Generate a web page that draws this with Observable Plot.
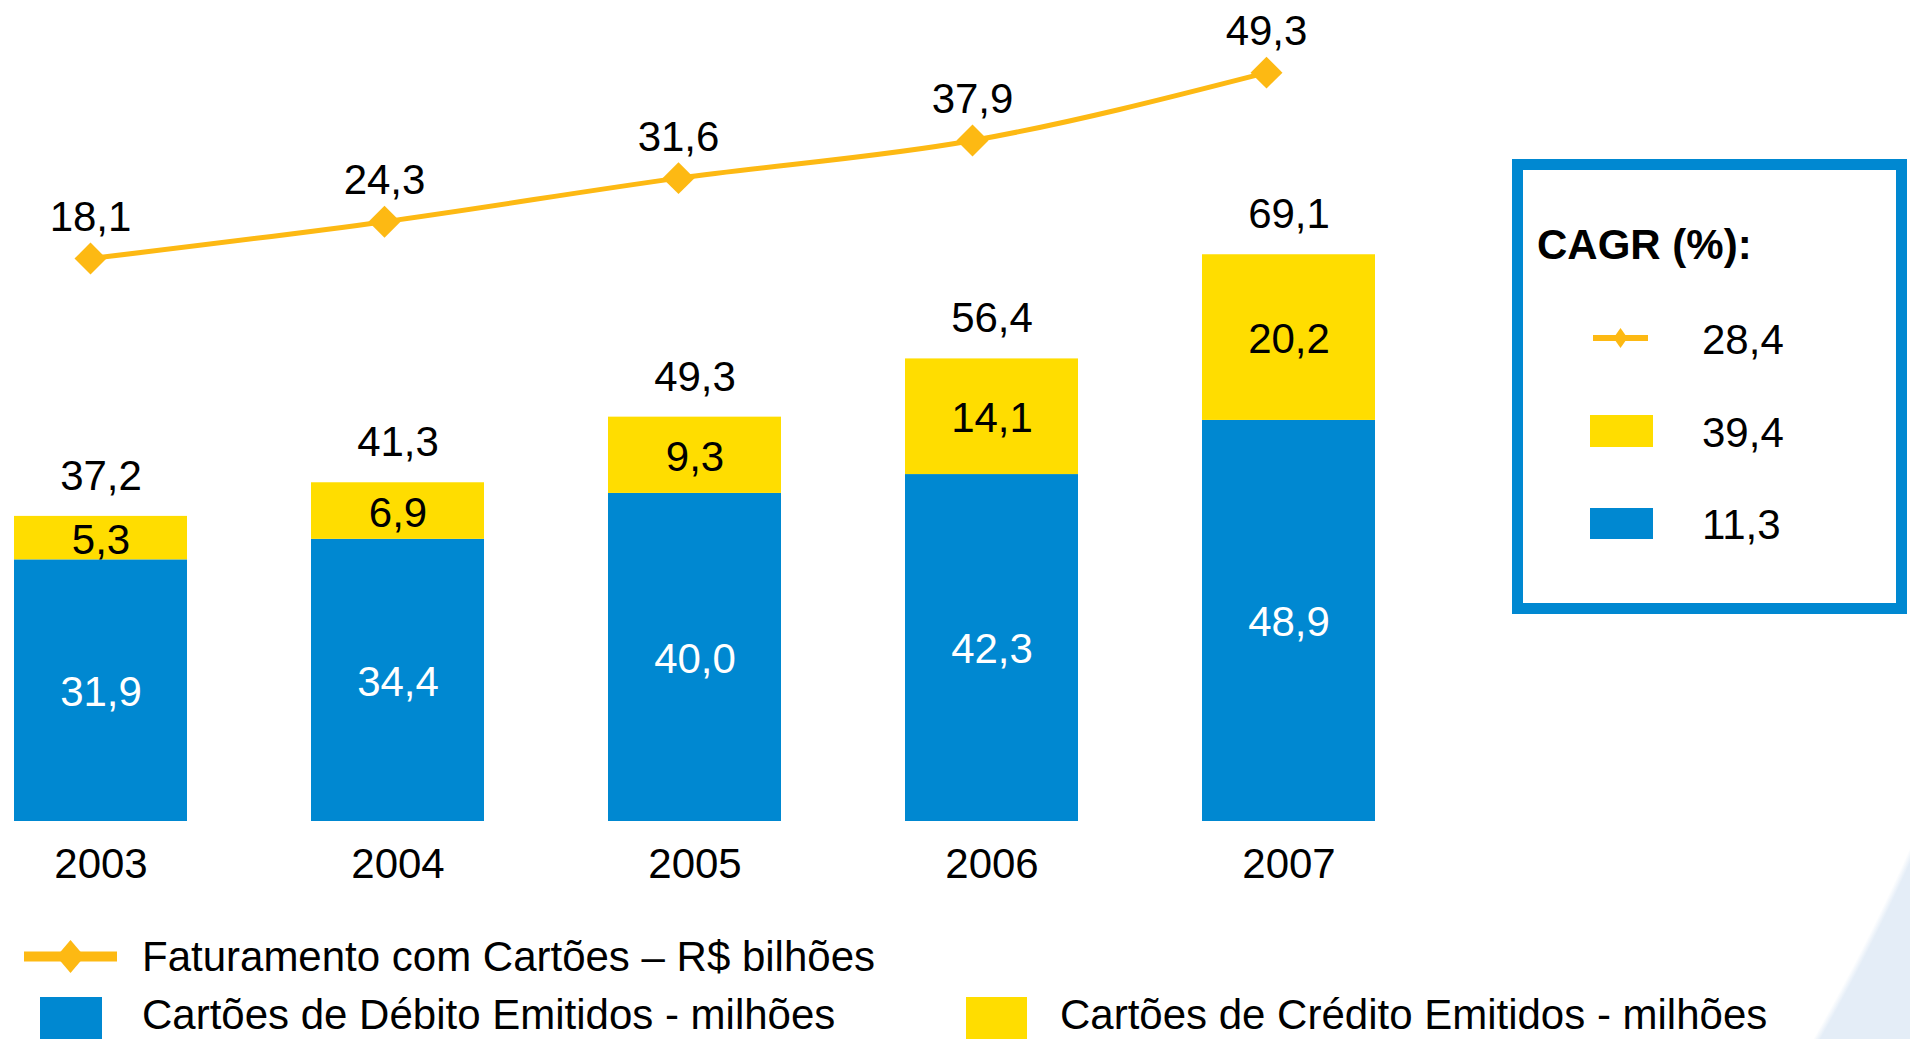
<!DOCTYPE html>
<html>
<head>
<meta charset="utf-8">
<script src="https://cdn.jsdelivr.net/npm/d3@7"></script>
<script src="https://cdn.jsdelivr.net/npm/@observablehq/plot@0.6"></script>
<style>
  html, body { margin: 0; padding: 0; }
  html { background: #fff; }
  body { width: 1910px; height: 1039px; overflow: hidden; font-family: 'Liberation Sans', Arial, sans-serif; color: #000; }
  #stage { position: relative; width: 1910px; height: 1039px; overflow: hidden;
    background: radial-gradient(circle 2096px at 0px 0px, #ffffff 99.7%, #e4edf7 100%); }
  .layer { position: absolute; left: 0; top: 0; }
  .t { position: absolute; font-size: 42px; line-height: 42px; white-space: nowrap; }
  .sw { position: absolute; }
  #cagr { position: absolute; left: 1512px; top: 159px; width: 395px; height: 455px; box-sizing: border-box; border: 11px solid #0088D1; background: #fff; }
</style>
</head>
<body>
<div id="stage"></div>
<script>
// ---- data ----
const years = ["2003", "2004", "2005", "2006", "2007"];
const debito = [31.9, 34.4, 40.0, 42.3, 48.9];        // Cartões de Débito Emitidos - milhões
const credito = [5.3, 6.9, 9.3, 14.1, 20.2];          // Cartões de Crédito Emitidos - milhões
const totais = [37.2, 41.3, 49.3, 56.4, 69.1];        // total labels above bars
const faturamento = [18.1, 24.3, 31.6, 37.9, 49.3];   // Faturamento com Cartões – R$ bilhões
const cagrLabels = ["28,4", "39,4", "11,3"];
const legendLabels = [
  "Faturamento com Cartões – R$ bilhões",
  "Cartões de Débito Emitidos - milhões",
  "Cartões de Crédito Emitidos - milhões"
];

// ---- styles ----
const BLUE = "#0088D1", YELLOW = "#FFDD00", ORANGE = "#FDB913";
const seriesColor = {debito: BLUE, credito: YELLOW};
const labelColor = {debito: "#ffffff", credito: "#000000"};
const FONT = "'Liberation Sans', Arial, sans-serif";
const fmt = v => v.toFixed(1).replace(".", ",");

const rows = [
  ...years.map((y, i) => ({year: y, series: "debito", value: debito[i]})),
  ...years.map((y, i) => ({year: y, series: "credito", value: credito[i]}))
];
const totalRows = years.map((y, i) => ({year: y, total: totais[i]}));
const lineRows = years.map((y, i) => ({year: y, value: faturamento[i]}));

const stage = document.getElementById("stage");

// ---- bars ----
const bars = Plot.plot({
  width: 1910, height: 900,
  marginTop: 0, marginBottom: 79, marginLeft: 0, marginRight: 0,
  style: {fontFamily: FONT, fontSize: "42px", background: "transparent", overflow: "visible", color: "#000"},
  x: {domain: years, range: [12, 1378], paddingInner: 0.416, paddingOuter: 0, tickSize: 0, tickPadding: 27, label: null},
  y: {domain: [0, 100.1], range: [821, 0], axis: null},
  color: {type: "identity"},
  marks: [
    Plot.barY(rows, {x: "year", y: "value", fill: d => seriesColor[d.series]}),
    Plot.text(rows, Plot.stackY({x: "year", y: "value", text: d => fmt(d.value), fill: d => labelColor[d.series], dy: 2})),
    Plot.text(totalRows, {x: "year", y: "total", text: d => fmt(d.total), dy: -40, fill: "#000"})
  ]
});
bars.classList.add("layer");
stage.appendChild(bars);

// ---- line ----
const line = Plot.plot({
  width: 1910, height: 400,
  marginTop: 0, marginBottom: 0, marginLeft: 0, marginRight: 0,
  style: {fontFamily: FONT, fontSize: "42px", background: "transparent", overflow: "visible", color: "#000"},
  x: {type: "point", domain: years, range: [88, 1267], padding: 0, axis: null},
  y: {domain: [0, 61.4], range: [366, 0], axis: null},
  marks: [
    Plot.line(lineRows, {x: "year", y: "value", stroke: ORANGE, strokeWidth: 5, curve: "monotone-x"}),
    Plot.dot(lineRows, {x: "year", y: "value", symbol: "diamond2", r: 14.4, fill: ORANGE, stroke: "none"}),
    Plot.text(lineRows, {x: "year", y: "value", text: d => fmt(d.value), dy: -41, fill: "#000"})
  ]
});
line.classList.add("layer");
line.style.pointerEvents = "none";
stage.appendChild(line);

// ---- helpers for HTML legends ----
function addText(str, left, baseline, bold) {
  const d = document.createElement("div");
  d.className = "t";
  d.textContent = str;
  d.style.left = left + "px";
  d.style.top = (baseline - 36) + "px";
  if (bold) d.style.fontWeight = "bold";
  stage.appendChild(d);
}
function addRect(color, x, y, w, h) {
  const d = document.createElement("div");
  d.className = "sw";
  Object.assign(d.style, {left: x + "px", top: y + "px", width: w + "px", height: h + "px", background: color});
  stage.appendChild(d);
}
function addLineSwatch(x1, x2, y, sw, dw, dh) {
  const ns = "http://www.w3.org/2000/svg";
  const s = document.createElementNS(ns, "svg");
  const w = x2 - x1, h = dh + 4;
  s.setAttribute("width", w); s.setAttribute("height", h);
  s.style.position = "absolute"; s.style.left = x1 + "px"; s.style.top = (y - h / 2) + "px";
  const l = document.createElementNS(ns, "line");
  l.setAttribute("x1", 0); l.setAttribute("x2", w); l.setAttribute("y1", h / 2); l.setAttribute("y2", h / 2);
  l.setAttribute("stroke", ORANGE); l.setAttribute("stroke-width", sw);
  s.appendChild(l);
  const p = document.createElementNS(ns, "polygon");
  const cx = w / 2, cy = h / 2;
  p.setAttribute("points", `${cx},${cy - dh / 2} ${cx + dw / 2},${cy} ${cx},${cy + dh / 2} ${cx - dw / 2},${cy}`);
  p.setAttribute("fill", ORANGE);
  s.appendChild(p);
  stage.appendChild(s);
}

// ---- CAGR box ----
const box = document.createElement("div");
box.id = "cagr";
stage.appendChild(box);
addText("CAGR (%):", 1537, 260, true);
addLineSwatch(1593, 1648, 338, 6, 14, 20);
addText(cagrLabels[0], 1702, 355);
addRect(YELLOW, 1590, 415, 63, 32);
addText(cagrLabels[1], 1702, 448);
addRect(BLUE, 1590, 508, 63, 31);
addText(cagrLabels[2], 1702, 540);

// ---- bottom legend ----
addLineSwatch(24, 117, 956, 10, 28, 33);
addText(legendLabels[0], 142, 972);
addRect(BLUE, 40, 997, 62, 42);
addText(legendLabels[1], 142, 1030);
addRect(YELLOW, 966, 997, 61, 42);
addText(legendLabels[2], 1060, 1030);
</script>
</body>
</html>
